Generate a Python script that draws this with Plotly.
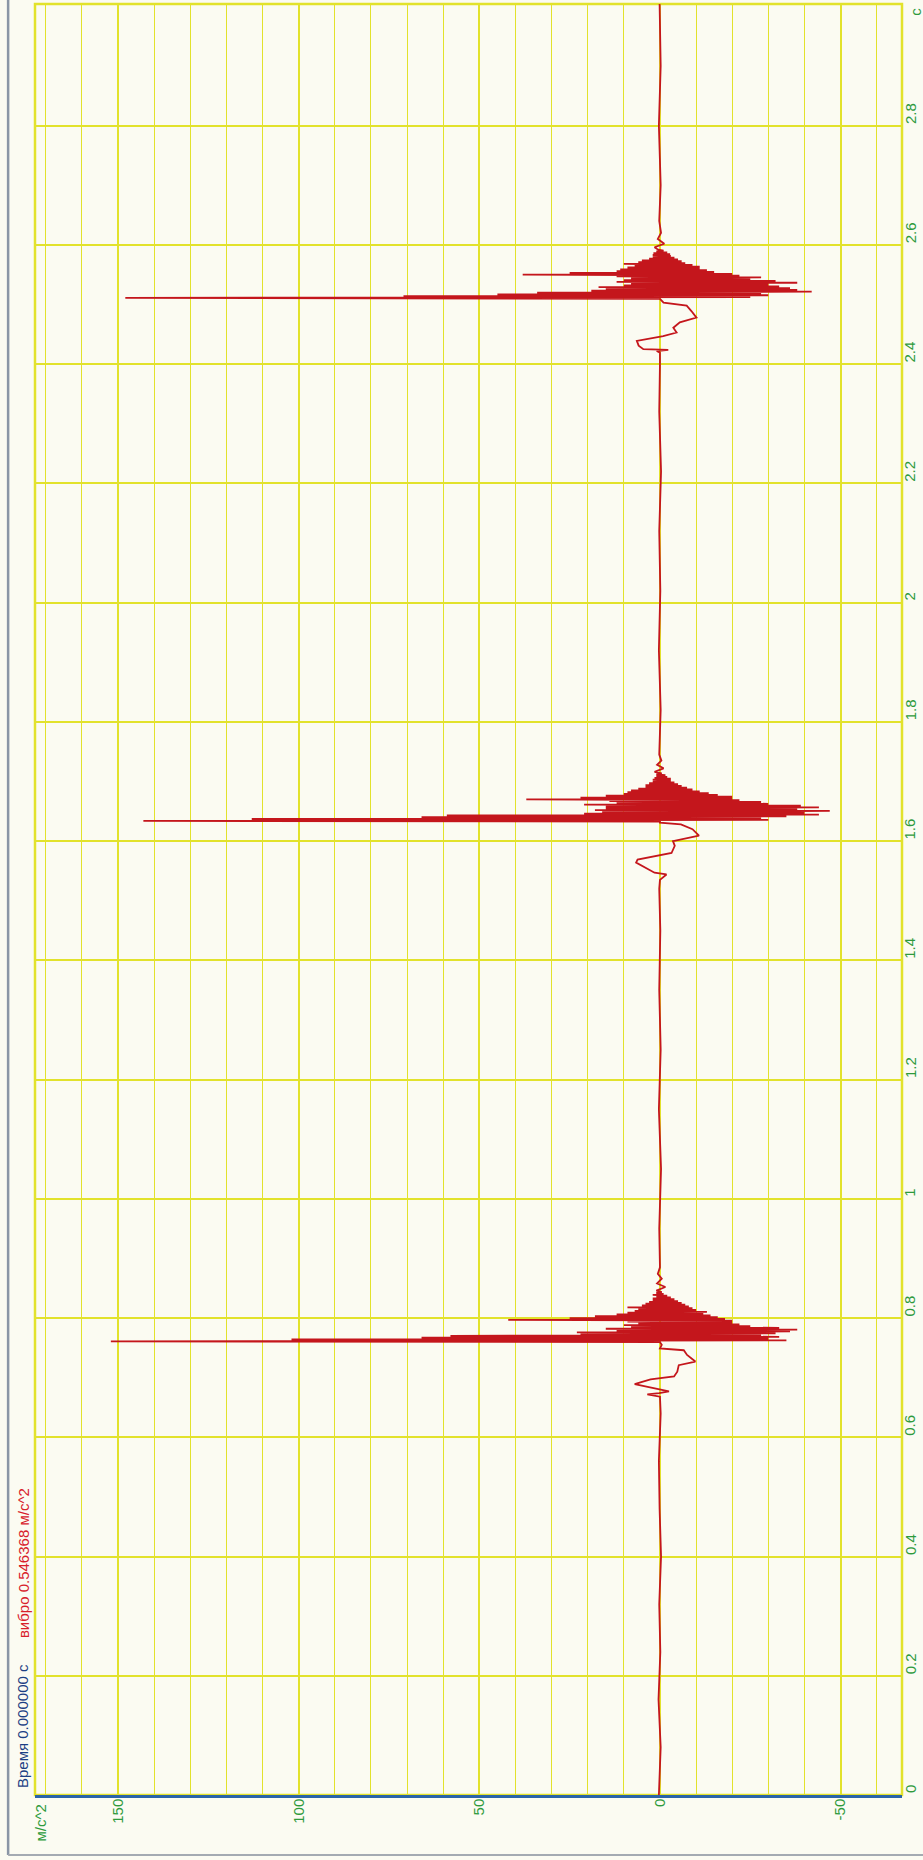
import plotly.graph_objects as go

# ---------------- data ----------------
# time (s) / acceleration (m/s^2) pieces of the single "вибро" trace
quiet1_t = [0.000, 0.080, 0.160, 0.240, 0.320, 0.400, 0.480, 0.560, 0.640]
quiet1_v = [0.3, -0.2, 0.4, -0.1, 0.2, -0.3, 0.1, 0.3, -0.2]

pre1_t = [0.668, 0.672, 0.674, 0.677, 0.681, 0.689, 0.692, 0.697, 0.702, 0.710, 0.721, 0.727, 0.738, 0.746, 0.749, 0.755]
pre1_v = [0.0, 3.5, 0.2, -2.5, 1.0, 7.0, 5.4, 2.6, -3.9, -4.8, -5.2, -9.8, -7.5, -6.6, 0.0, -0.5]

burst1_start = 0.7595
burst1_v = [0, 152, -35, 102, -30, 66, -33, 58, -28, 22, -32, 23, -36, 12, -38, 15, -33, 8, -25, 10,
            -22, 6, -20, 9, -20, 42, -18, 25, -16, 18, -14, 12, -12, 9, -13, 7, -10, 6, -9, 9,
            -8, 5, -7, 4, -6, 3, -5, 2, -4, 2, -3, 1, -2, 2, -1, 1, -0.5, 0.5]

tail1_t = [0.846, 0.852, 0.858, 0.866, 0.874, 0.885]
tail1_v = [1.0, -1.5, 0.8, -0.5, 0.6, 0.0]

quiet2_t = [0.950, 1.050, 1.150, 1.250, 1.350, 1.450, 1.520]
quiet2_v = [0.2, -0.3, 0.3, -0.2, 0.2, -0.1, 0.2]

pre2_t = [1.535, 1.544, 1.547, 1.552, 1.558, 1.564, 1.569, 1.575, 1.580, 1.592, 1.600, 1.609, 1.620, 1.628, 1.631]
pre2_v = [0.0, -1.8, 1.5, 3.0, 5.2, 6.6, 6.2, 1.5, -3.2, -4.1, -3.6, -10.8, -9.0, -5.8, 0.0]

burst2_start = 1.6325
burst2_v = [0, 143, -30, 113, -28, 66, -35, 59, -44, 21, -40, 16, -47, 18, -38, 15, -44, 15, -39, 21,
            -30, 12, -28, 14, -22, 37, -20, 22, -20, 15, -16, 10, -13.5, 9, -11, 8, -9, 6, -7.5, 4,
            -6, 4, -5, 3, -4, 2, -3, 2, -3, 1.5, -2, 1, -1.5, 1, -0.5]

tail2_t = [1.716, 1.722, 1.728, 1.735, 1.745]
tail2_v = [1.5, -1.0, 0.8, -0.4, 0.2]

quiet3_t = [1.820, 1.920, 2.020, 2.120, 2.220, 2.320, 2.400]
quiet3_v = [-0.2, 0.3, -0.1, 0.2, -0.3, 0.2, 0.0]

pre3_t = [2.419, 2.422, 2.424, 2.425, 2.431, 2.439, 2.442, 2.447, 2.453, 2.461, 2.470, 2.478, 2.489, 2.498, 2.503]
pre3_v = [0.0, 0.9, -2.3, 4.6, 5.9, 6.4, 3.7, -0.9, -4.6, -3.7, -5.5, -10.1, -8.7, -7.4, -1.0]

burst3_start = 2.5095
burst3_v = [0, 148, -25, 71, -30, 45, -28, 34, -42, 19, -38, 15, -36, 17, -33, 10, -30, 8, -38, 12,
            -32, 10, -25, 8, -28, 12, -22, 38, -20, 25, -15, 12, -13, 11, -11, 9, -11, 7, -9, 10,
            -7, 6, -6, 5, -5, 3, -4, 2, -3, 2, -2.8, 1.8, -2, 1, -1, 0.5]

tail3_t = [2.596, 2.602, 2.610, 2.620, 2.640]
tail3_v = [1.5, -1.2, 0.6, -0.3, 0.2]

quiet4_t = [2.700, 2.800, 2.900, 3.004]
quiet4_v = [-0.2, 0.3, -0.2, 0.1]

sample_step = 0.0015  # s between samples inside a burst

x_ticks = [150, 100, 50, 0, -50]
y_ticks = [0, 0.2, 0.4, 0.6, 0.8, 1, 1.2, 1.4, 1.6, 1.8, 2, 2.2, 2.4, 2.6, 2.8]
y_tick_text = ["0", "0.2", "0.4", "0.6", "0.8", "1", "1.2", "1.4", "1.6", "1.8", "2", "2.2", "2.4", "2.6", "2.8"]

# ---------------- assemble the sampled series ----------------
def burst_times(start, vals):
    return [start + i * sample_step for i in range(len(vals))]

T = (quiet1_t + pre1_t + burst_times(burst1_start, burst1_v) + tail1_t + quiet2_t + pre2_t
     + burst_times(burst2_start, burst2_v) + tail2_t + quiet3_t + pre3_t
     + burst_times(burst3_start, burst3_v) + tail3_t + quiet4_t)
V = (quiet1_v + pre1_v + burst1_v + tail1_v + quiet2_v + pre2_v + burst2_v + tail2_v
     + quiet3_v + pre3_v + burst3_v + tail3_v + quiet4_v)

RED = "#c4161c"
YEL = "#e2e22c"
GREEN = "#2e9a3c"
BG = "#fbfbf2"

fig = go.Figure()
fig.add_trace(go.Scatter(x=V, y=T, mode="lines", line=dict(color=RED, width=1.8),
                         hoverinfo="skip", showlegend=False))

fig.update_layout(
    width=923, height=1860,
    margin=dict(l=35, r=21, t=4, b=65),
    paper_bgcolor=BG, plot_bgcolor=BG,
    font=dict(family="Liberation Sans, Arial, sans-serif", size=15, color=GREEN),
    showlegend=False,
)

fig.update_xaxes(
    range=[173, -67], showgrid=True, gridcolor=YEL, gridwidth=2,
    tickmode="array", tickvals=x_ticks, ticktext=[str(v) for v in x_ticks],
    tickangle=-90, tickfont=dict(color=GREEN, size=15),
    zeroline=False, showline=True, linecolor="#2a64a8", linewidth=2.5,
    ticks="", ticklabelstandoff=-5,
    minor=dict(tickmode="linear", tick0=0, dtick=10, showgrid=True, gridcolor=YEL, gridwidth=1.2),
)
fig.update_yaxes(
    range=[0, 3.004], side="right", showgrid=True, gridcolor=YEL, gridwidth=1.8,
    tickmode="array", tickvals=y_ticks, showticklabels=False,
    zeroline=False, showline=False, ticks="",
)

# time tick labels: rotated, text starting at the gridline (placed on the y scale)
for tv, tt in zip(y_ticks, y_tick_text):
    fig.add_annotation(text=tt, xref="paper", yref="y", x=1.0092, y=tv,
                       xanchor="center", yanchor="bottom", textangle=-90, showarrow=False,
                       font=dict(color=GREEN, size=15))

# yellow frame round the plot area
fig.add_shape(type="rect", xref="paper", yref="paper", x0=0, x1=1, y0=0, y1=1,
              line=dict(color=YEL, width=2.5), layer="below")
# window border (left and bottom)
fig.add_shape(type="line", xref="paper", yref="paper", x0=-0.031, x1=-0.031, y0=-0.0335, y1=1.003,
              line=dict(color="#8a96a6", width=2.5))
fig.add_shape(type="line", xref="paper", yref="paper", x0=-0.031, x1=1.03, y0=-0.0335, y1=-0.0335,
              line=dict(color="#a4aab2", width=2))

# header readouts (rotated) in the left margin
fig.add_annotation(text="Время 0.000000 с", xref="paper", yref="paper",
                   x=-0.0138, y=0.0028, xanchor="center", yanchor="bottom", textangle=-90,
                   showarrow=False, font=dict(color="#1c3f84", size=15))
fig.add_annotation(text="вибро 0.546368 м/с^2", xref="paper", yref="paper",
                   x=-0.0138, y=0.0865, xanchor="center", yanchor="bottom", textangle=-90,
                   showarrow=False, font=dict(color="#d8202a", size=15))
# axis unit labels
fig.add_annotation(text="м/с^2", xref="paper", yref="paper",
                   x=0.0069, y=-0.0039, xanchor="center", yanchor="top", textangle=-90,
                   showarrow=False, font=dict(color=GREEN, size=15))
fig.add_annotation(text="с", xref="paper", yref="paper",
                   x=1.0162, y=0.999, xanchor="center", yanchor="top", textangle=-90,
                   showarrow=False, font=dict(color=GREEN, size=15))

fig.write_html("out.html", config={"displayModeBar": False},
               post_script="document.body.style.margin='0';document.body.style.background='#fbfbf2';")
